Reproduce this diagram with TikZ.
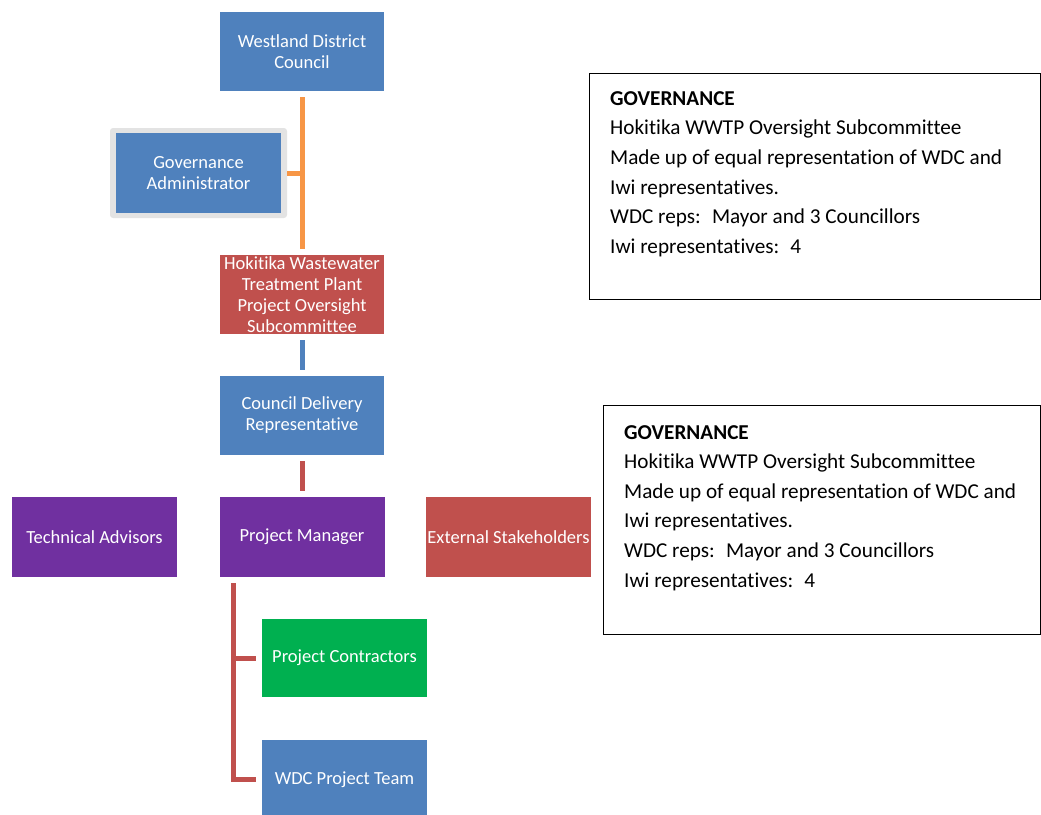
\documentclass[tikz,border=0pt]{standalone}
\usepackage{fontspec}
\setmainfont{Carlito}[Ligatures=NoCommon]
\definecolor{wblue}{HTML}{4F81BD}
\definecolor{wred}{HTML}{C0504D}
\definecolor{wpurple}{HTML}{7030A0}
\definecolor{wgreen}{HTML}{00B050}
\definecolor{worange}{HTML}{F79646}
\definecolor{framegray}{HTML}{E3E3E3}
\begin{document}
\begin{tikzpicture}[x=1pt,y=-1pt,
  orgbox/.style={rectangle, minimum width=164, minimum height=79, inner sep=1pt,
    text=white, align=center, font=\fontsize{18.5}{21}\selectfont},
  conn/.style={line width=5pt},
  infobox/.style={draw=black, line width=1.3pt, rectangle, anchor=north west, inner sep=0pt},
  infoline/.style={anchor=base west, inner sep=0pt, font=\fontsize{21.2}{25}\selectfont}
  ]
\useasboundingbox (0,0) rectangle (1041,814);

% org chart boxes
\node[orgbox, fill=wblue] (wdc) at (302,51.5) {Westland District\\Council};
\node[fill=framegray, rounded corners=3pt, minimum width=177, minimum height=90, inner sep=0pt] (gaf) at (198.5,173) {};
\node[orgbox, fill=wblue, minimum width=165, minimum height=80] (ga) at (gaf.center) {Governance\\Administrator};
\node[orgbox, fill=wred] (hok) at (302,294.5) {Hokitika Wastewater\\Treatment Plant\\Project Oversight\\Subcommittee};
\node[orgbox, fill=wblue] (cdr) at (302,415.5) {Council Delivery\\Representative};
\node[orgbox, fill=wpurple, minimum width=165, minimum height=80] (ta) at (94.5,537) {Technical Advisors};
\node[orgbox, fill=wpurple, minimum width=165, minimum height=80] (pm) at (302,537) {Project Manager};
\node[orgbox, fill=wred, minimum width=165, minimum height=80] (es) at (508.5,537) {External Stakeholders};
\node[orgbox, fill=wgreen, minimum width=165, minimum height=78] (pc) at (344.5,658) {Project Contractors};
\node[orgbox, fill=wblue, minimum width=165, minimum height=79] (wpt) at (344.5,779.5) {WDC Project Team};

% connectors
\draw[conn, worange] ([yshift=-6pt]wdc.south) -- ([yshift=6pt]hok.north);
\draw[conn, worange] (gaf.east) -- (gaf.east -| wdc.south);
\draw[conn, wblue] ([yshift=-6pt]hok.south) -- ([yshift=6pt]cdr.north);
\draw[conn, wred] ([yshift=-6pt]cdr.south) -- ([yshift=6pt]pm.north);
\coordinate (br) at ([xshift=14pt,yshift=-6pt]pm.south west);
\draw[conn, wred] (br) |- ([xshift=-6pt]pc.west);
\draw[conn, wred] (br) |- ([xshift=-6pt]wpt.west);

% governance text boxes
\node[infobox, minimum width=451, minimum height=226] (gb1) at (589,73) {};
\node[infobox, minimum width=437, minimum height=229] (gb2) at (603,405) {};

\foreach \t [count=\i] in {{\textbf{GOVERNANCE}}, {Hokitika WWTP Oversight Subcommittee}, {Made up of equal representation of WDC and}, {Iwi representatives.}, {WDC reps:~ Mayor and 3 Councillors}, {Iwi representatives:~ 4}}
{
  \node[infoline] (ga\i) at (610,{105+29.7*(\i-1)}) {\t};
  \node[infoline] (gb\i) at (624,{439+29.6*(\i-1)}) {\t};
}
\end{tikzpicture}
\end{document}
